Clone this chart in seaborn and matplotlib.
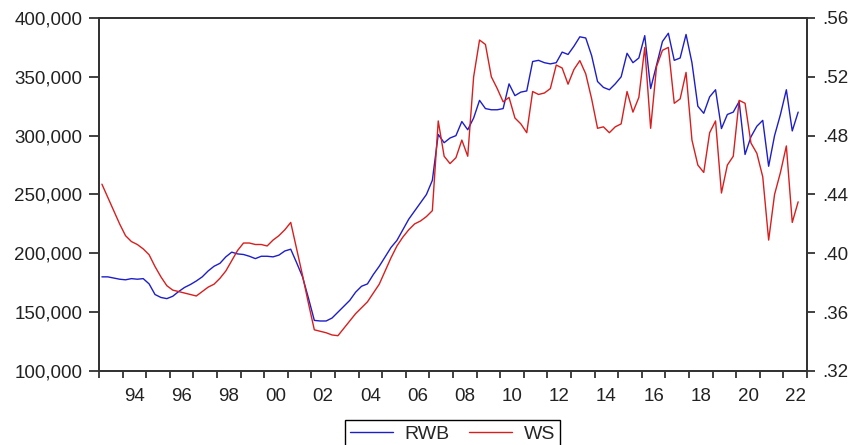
import pandas as pd
import seaborn as sns
import matplotlib.pyplot as plt
from matplotlib.ticker import FuncFormatter

# Quarterly series, starting 1993Q1
start_quarter = '1993Q1'

# RWB (left axis)
rwb = [180000, 180000, 179000, 178000, 177500, 178500, 178000, 178500,
       174000, 165000, 162500, 161500, 163500, 167500, 171000, 173500,
       176500, 180000, 185000, 189000, 191500, 197000, 201000, 199500,
       199000, 197500, 195500, 197500, 197500, 197000, 198500, 202000,
       203500, 192000, 180000, 162000, 143000, 142500, 142500, 145000,
       150000, 155000, 160000, 167000, 172000, 174000, 182000, 189000,
       197000, 205000, 211000, 220000, 229000, 236000, 243000, 250000,
       262000, 301000, 294000, 298000, 300000, 312000, 305000, 315000,
       330000, 323000, 322000, 322000, 323000, 344000, 334000, 337000,
       338000, 363000, 364000, 362000, 361000, 362000, 371000, 369000,
       376000, 384000, 383000, 368000, 346000, 341000, 339000, 344000,
       350000, 370000, 362000, 366000, 385000, 340000, 360000, 380000,
       387000, 364000, 366000, 386000, 362000, 325000, 319000, 333000,
       339000, 306000, 318000, 320000, 329000, 284000, 299000, 308000,
       313000, 274000, 300000, 318000, 339000, 304000, 320000]

# WS (right axis)
ws = [0.447, 0.438, 0.429, 0.420, 0.412, 0.408, 0.406, 0.403,
      0.399, 0.391, 0.384, 0.378, 0.375, 0.374, 0.373, 0.372,
      0.371, 0.374, 0.377, 0.379, 0.383, 0.388, 0.395, 0.402,
      0.407, 0.407, 0.406, 0.406, 0.405, 0.409, 0.412, 0.416,
      0.421, 0.403, 0.385, 0.366, 0.348, 0.347, 0.346, 0.3445,
      0.344, 0.349, 0.354, 0.359, 0.363, 0.367, 0.373, 0.379,
      0.388, 0.397, 0.405, 0.411, 0.416, 0.420, 0.422, 0.425,
      0.429, 0.490, 0.466, 0.461, 0.465, 0.477, 0.466, 0.520,
      0.545, 0.542, 0.520, 0.512, 0.503, 0.506, 0.492, 0.488,
      0.482, 0.510, 0.508, 0.509, 0.512, 0.528, 0.526, 0.515,
      0.525, 0.531, 0.522, 0.505, 0.485, 0.486, 0.482, 0.486,
      0.488, 0.510, 0.496, 0.506, 0.540, 0.485, 0.527, 0.538,
      0.540, 0.502, 0.505, 0.523, 0.477, 0.460, 0.455, 0.482,
      0.490, 0.441, 0.460, 0.466, 0.504, 0.502, 0.475, 0.468,
      0.452, 0.409, 0.440, 0.455, 0.473, 0.421, 0.435]

left_ticks = [100000, 150000, 200000, 250000, 300000, 350000, 400000]
right_ticks = [0.32, 0.36, 0.40, 0.44, 0.48, 0.52, 0.56]
first_year, last_year = 1993, 2023
label_years = list(range(1994, 2023, 2))

quarters = pd.period_range(start_quarter, periods=len(rwb), freq='Q')
df = pd.DataFrame({'t': quarters.year + (quarters.quarter - 0.5) / 4,
                   'RWB': rwb, 'WS': ws})

sns.set_style('ticks')
plt.rcParams['font.family'] = ['Liberation Sans', 'DejaVu Sans']

fig = plt.figure(figsize=(8.51, 4.45), dpi=100)
ax = fig.add_axes([0.1163, 0.1663, 0.8320, 0.7933])
ax2 = ax.twinx()

sns.lineplot(data=df, x='t', y='RWB', ax=ax, color='#1e1ec8', lw=1.0, legend=False)
sns.lineplot(data=df, x='t', y='WS', ax=ax2, color='#d81e1e', lw=1.0, legend=False)

ax.set_xlim(first_year, last_year)
ax.set_ylim(left_ticks[0], left_ticks[-1])
ax2.set_ylim(right_ticks[0], right_ticks[-1])

# year boundaries get tick marks, labels sit in the middle of the even years
ax.set_xticks(range(first_year, last_year + 1))
ax.set_xticklabels([])
ax.set_xticks([y + 0.5 for y in label_years], minor=True)
ax.set_xticklabels([f'{y % 100:02d}' for y in label_years], minor=True)

ax.set_yticks(left_ticks)
ax.yaxis.set_major_formatter(FuncFormatter(lambda v, p: f'{v:,.0f}'))
ax2.set_yticks(right_ticks)
ax2.yaxis.set_major_formatter(FuncFormatter(lambda v, p: f'{v:.2f}'.lstrip('0')))
ax.yaxis.set_minor_locator(plt.NullLocator())
ax2.yaxis.set_minor_locator(plt.NullLocator())

ax.set_xlabel('')
ax.set_ylabel('')
ax2.set_ylabel('')

spine_col = '#333333'
for a in (ax, ax2):
    for s in a.spines.values():
        s.set_color(spine_col)
        s.set_linewidth(1.3)
ax.tick_params(axis='x', which='major', length=5, width=1.3, color=spine_col)
ax.tick_params(axis='x', which='minor', length=0, pad=12, labelsize=13.5, labelcolor='#222222')
ax.tick_params(axis='y', length=7, width=1.3, color=spine_col, pad=5,
               labelsize=13.5, labelcolor='#222222')
ax2.tick_params(axis='y', length=6, width=1.3, color=spine_col, pad=5,
                labelsize=13.5, labelcolor='#222222')

handles = [ax.get_lines()[0], ax2.get_lines()[0]]
leg = fig.legend(handles=handles, labels=['RWB', 'WS'], loc='upper center',
                 bbox_to_anchor=(0.532, 0.056), borderaxespad=0, ncol=2,
                 frameon=True, fancybox=False, edgecolor='black', framealpha=1,
                 handlelength=2.2, handletextpad=0.6, columnspacing=1.0,
                 borderpad=0.25, fontsize=14)
leg.get_frame().set_linewidth(1.0)

plt.savefig('out.png', dpi=100)
